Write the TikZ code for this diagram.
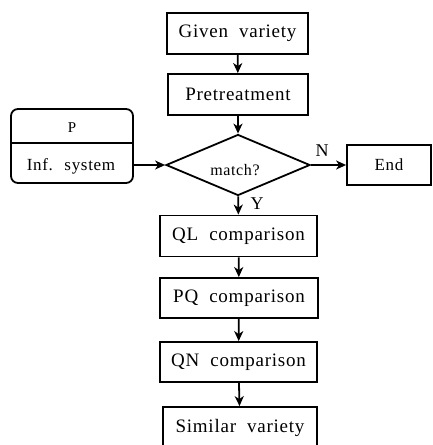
\documentclass[tikz,border=0pt]{standalone}
\usepackage{fontspec}
\setmainfont{Liberation Serif}[LetterSpace=4,WordSpace=2]
\usetikzlibrary{shapes.geometric,arrows.meta}
\tikzset{
	boite/.style	= {draw, line width=1.8pt, minimum height=41pt, inner sep=2pt, font=\fontsize{19}{21}\selectfont},
	fleche/.style	= {line width=1.8pt, -{Stealth[length=10pt,width=9pt,inset=3pt]}},
}
\begin{document}
\begin{tikzpicture}[x=1pt, y=-1pt]
				% Cadre
				\useasboundingbox	(0,0)	rectangle	(433,445)	;
				\clip 				(0,0)	rectangle	(433,445)	;
				% Boites
				\node [boite, minimum width=141pt]	(donnee)	at (237.5, 33.5)	{Given variety}	;
				\node [boite, minimum width=140pt]	(pretr)		at (238, 94.5)		{Pretreatment}	;
				\node [draw, diamond, line width=1.8pt, minimum width=144pt, minimum height=61pt, inner sep=0pt]
													(test)		at (238, 165)		{}				;
				\node [font=\fontsize{16}{18}\selectfont]	(match)	at (235, 170)	{match?}		;
				\node [boite, minimum width=157pt]	(ql)		at (238.5, 236)		{QL comparison}	;
				\node [boite, minimum width=158pt, minimum height=40pt]
													(pq)		at (239, 298)		{PQ comparison}	;
				\node [boite, minimum width=157pt, minimum height=40pt]
													(qn)		at (238.5, 362)		{QN comparison}	;
				\node [boite, minimum width=154pt, minimum height=42pt]
													(simil)		at (240, 428)		{Similar variety}	;
				\node [boite, minimum width=84pt, minimum height=40pt, font=\fontsize{17}{19}\selectfont]
													(fin)		at (389, 165)		{End}			;
				% Systeme d'inference
				\node [draw, line width=1.8pt, rounded corners=7pt, minimum width=122pt, minimum height=74pt]
													(sys)		at (72, 146)		{}				;
				\node [font=\fontsize{15}{17}\selectfont]	(p)		at (72, 128)	{P}				;
				\node [font=\fontsize{17}{19}\selectfont]	(inf)	at (71, 166)	{Inf. system}	;
				\coordinate	(sepg)	at (11, 143)	;
				\coordinate	(sepd)	at (133, 143)	;
				\draw [line width=1.8pt]	(sepg)	-- (sepd)	;
				% Fleches
				\draw [fleche]	(donnee)	-- (pretr)	;
				\draw [fleche]	(pretr)		-- (test)	;
				\draw [fleche]	(test)		-- (ql)		;
				\draw [fleche]	(ql)		-- (pq)		;
				\draw [fleche]	(pq)		-- (qn)		;
				\draw [fleche]	(qn)		-- (simil)	;
				\draw [fleche]	(sys.east |- test)	-- (test.west)	;
				\draw [fleche]	(test.east)			-- (fin.west)	;
				% Etiquettes
				\node [font=\fontsize{18}{20}\selectfont]	(non)	at (322, 151)	{N}	;
				\node [font=\fontsize{18}{20}\selectfont]	(oui)	at (257, 204)	{Y}	;
\end{tikzpicture}
\end{document}
